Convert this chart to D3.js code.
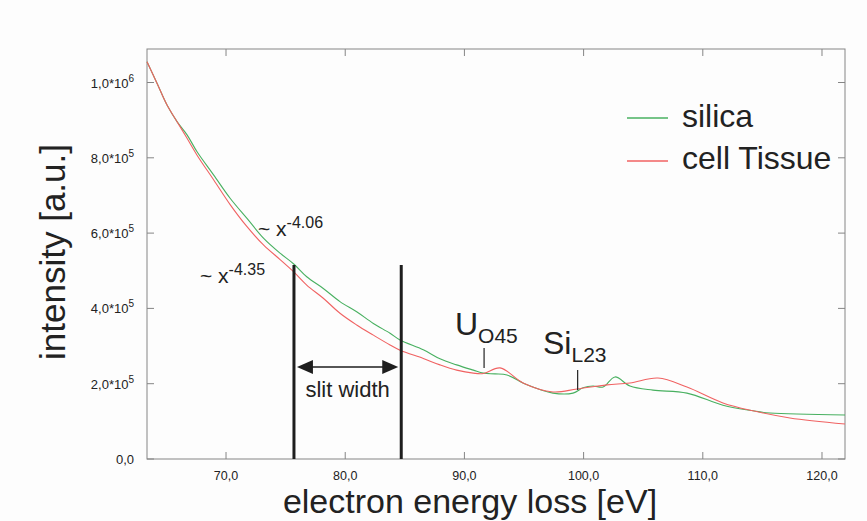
<!DOCTYPE html>
<html>
<head>
<meta charset="utf-8">
<script src="https://cdn.jsdelivr.net/npm/d3@7"></script>
<style>
  body { margin: 0; background: #fdfdfd; }
  svg { font-family: "Liberation Sans", Arial, sans-serif; }
</style>
</head>
<body>
<svg width="867" height="521"></svg>
<script>
// energy loss [eV] and intensity [a.u.]
const silicaE = [63.37, 64.21, 65.05, 65.89, 66.73, 67.57, 68.97, 70.36, 71.76, 73.16, 74.56, 75.68, 76.77, 78.16, 79.56, 80.96, 82.36, 83.76, 84.6, 86.55, 87.95, 89.35, 90.75, 91.59, 92.57, 93.57, 95.25, 97.43, 99.11, 99.95, 100.79, 101.63, 102.63, 103.89, 105.82, 108.67, 111.69, 114.21, 115.64, 121.93];
const silicaI = [1055000, 998000, 940000, 896000, 861000, 816000, 754000, 692000, 639000, 586000, 546000, 518000, 484000, 453000, 418000, 391000, 360000, 334000, 316000, 290000, 266000, 250000, 236000, 228000, 226000, 223000, 197000, 175000, 175000, 189000, 194000, 191000, 218000, 194000, 183000, 175000, 143000, 128000, 122000, 117000];

const tissueE = [63.37, 64.21, 65.05, 65.89, 66.73, 67.57, 68.97, 70.36, 71.76, 73.16, 74.56, 75.68, 76.77, 78.16, 79.56, 80.96, 82.36, 83.76, 84.6, 86.55, 87.95, 89.35, 90.75, 91.59, 92.99, 94.92, 97.43, 99.45, 101.96, 103.89, 106.24, 108.67, 111.69, 114.21, 117.31, 121.93];
const tissueI = [1055000, 998000, 940000, 896000, 852000, 807000, 741000, 675000, 617000, 568000, 529000, 497000, 462000, 427000, 387000, 356000, 329000, 303000, 289000, 267000, 250000, 236000, 228000, 227000, 242000, 202000, 178000, 186000, 197000, 202000, 215000, 191000, 149000, 128000, 109000, 93000];

const xTicks = [70, 80, 90, 100, 110, 120];
const yTicks = [0, 200000, 400000, 600000, 800000, 1000000];

// slit edges [eV]
const slit = [75.7, 84.7];

const svg = d3.select("svg"),
  margin = { top: 49, right: 22, bottom: 62, left: 147 },
  width = +svg.attr("width") - margin.left - margin.right,
  height = +svg.attr("height") - margin.top - margin.bottom;

const chart = svg.append("g")
  .attr("transform", `translate(${margin.left},${margin.top})`);

const x = d3.scaleLinear().domain([63.37, 121.93]).range([0, width]);
const y = d3.scaleLinear().domain([0, 1089000]).range([height, 0]);

// frame
chart.append("rect")
  .attr("width", width).attr("height", height)
  .attr("fill", "none").attr("stroke", "#858585");

// inward ticks on all four sides
const tk = 7;
xTicks.forEach((t) => {
  chart.append("line").attr("x1", x(t)).attr("x2", x(t)).attr("y1", height).attr("y2", height - tk).attr("stroke", "#858585");
  chart.append("line").attr("x1", x(t)).attr("x2", x(t)).attr("y1", 0).attr("y2", tk).attr("stroke", "#858585");
  chart.append("text").attr("x", x(t)).attr("y", height + 21)
    .attr("text-anchor", "middle").attr("font-size", 12.5).attr("fill", "#222")
    .text(t.toFixed(1).replace(".", ","));
});
yTicks.forEach((t) => {
  chart.append("line").attr("x1", 0).attr("x2", tk).attr("y1", y(t)).attr("y2", y(t)).attr("stroke", "#858585");
  chart.append("line").attr("x1", width).attr("x2", width - tk).attr("y1", y(t)).attr("y2", y(t)).attr("stroke", "#858585");
  const lab = chart.append("text").attr("x", -13).attr("y", y(t) + 5)
    .attr("text-anchor", "end").attr("font-size", 13).attr("fill", "#222");
  if (t === 0) {
    lab.text("0,0");
  } else {
    const e = Math.floor(Math.log10(t));
    lab.append("tspan").text((t / Math.pow(10, e)).toFixed(1).replace(".", ",") + "*10");
    lab.append("tspan").attr("font-size", 10).attr("dy", -6).text(e);
  }
});

const line = d3.line()
  .x((d) => x(d[0]))
  .y((d) => y(d[1]))
  .curve(d3.curveCatmullRom.alpha(0.5));

chart.append("path")
  .datum(silicaE.map((e, i) => [e, silicaI[i]]))
  .attr("d", line).attr("fill", "none")
  .attr("stroke", "#48b060").attr("stroke-width", 1.1);

chart.append("path")
  .datum(tissueE.map((e, i) => [e, tissueI[i]]))
  .attr("d", line).attr("fill", "none")
  .attr("stroke", "#f06262").attr("stroke-width", 1.1);

// slit width marker
chart.selectAll(".slit")
  .data(slit)
  .enter()
  .append("line")
  .attr("class", "slit")
  .attr("x1", (d) => x(d)).attr("x2", (d) => x(d))
  .attr("y1", 216).attr("y2", height)
  .attr("stroke", "#1e1e1e").attr("stroke-width", 3);

const ay = 318, ax0 = x(slit[0]) + 3, ax1 = x(slit[1]) - 3;
chart.append("line").attr("x1", ax0 + 12).attr("x2", ax1 - 12)
  .attr("y1", ay).attr("y2", ay).attr("stroke", "#1e1e1e").attr("stroke-width", 1.5);
chart.append("path").attr("d", `M${ax0},${ay}L${ax0 + 16},${ay - 7}L${ax0 + 16},${ay + 7}Z`).attr("fill", "#1e1e1e");
chart.append("path").attr("d", `M${ax1},${ay}L${ax1 - 16},${ay - 7}L${ax1 - 16},${ay + 7}Z`).attr("fill", "#1e1e1e");
chart.append("text").attr("x", (ax0 + ax1) / 2).attr("y", 348)
  .attr("text-anchor", "middle").attr("font-size", 22).attr("fill", "#222").text("slit width");

// power law labels
function powerLabel(px, py, exp) {
  const t = chart.append("text").attr("x", px).attr("y", py).attr("font-size", 21).attr("fill", "#222");
  t.append("tspan").text("~ x");
  t.append("tspan").attr("font-size", 16).attr("dy", -8).text(exp);
}
powerLabel(111, 187, "-4.06");
powerLabel(53, 234, "-4.35");

// edge labels
function edgeLabel(px, py, main, sub, tx, t0, t1) {
  const t = chart.append("text").attr("x", px).attr("y", py).attr("font-size", 32).attr("fill", "#222");
  t.append("tspan").text(main);
  t.append("tspan").attr("font-size", 21).attr("dy", 8).text(sub);
  chart.append("line").attr("x1", tx).attr("x2", tx).attr("y1", t0).attr("y2", t1)
    .attr("stroke", "#222").attr("stroke-width", 1.2);
}
edgeLabel(308, 286, "U", "O45", x(91.65), 299, 319);
edgeLabel(396, 305, "Si", "L23", x(99.5), 321, 341);

// legend
const legend = [
  { name: "silica", color: "#48b060", ly: 69, ty: 78 },
  { name: "cell Tissue", color: "#f06262", ly: 112, ty: 120 },
];
legend.forEach((d) => {
  chart.append("line").attr("x1", 480).attr("x2", 521).attr("y1", d.ly).attr("y2", d.ly)
    .attr("stroke", d.color).attr("stroke-width", 1.3);
  chart.append("text").attr("x", 535).attr("y", d.ty)
    .attr("font-size", 32).attr("fill", "#222").text(d.name);
});

// axis titles
svg.append("text")
  .attr("x", 470).attr("y", 513)
  .attr("text-anchor", "middle").attr("font-size", 34).attr("fill", "#222")
  .text("electron energy loss [eV]");

svg.append("text")
  .attr("transform", "translate(65,252) rotate(-90)")
  .attr("text-anchor", "middle").attr("font-size", 35).attr("fill", "#222")
  .text("intensity [a.u.]");
</script>
</body>
</html>
